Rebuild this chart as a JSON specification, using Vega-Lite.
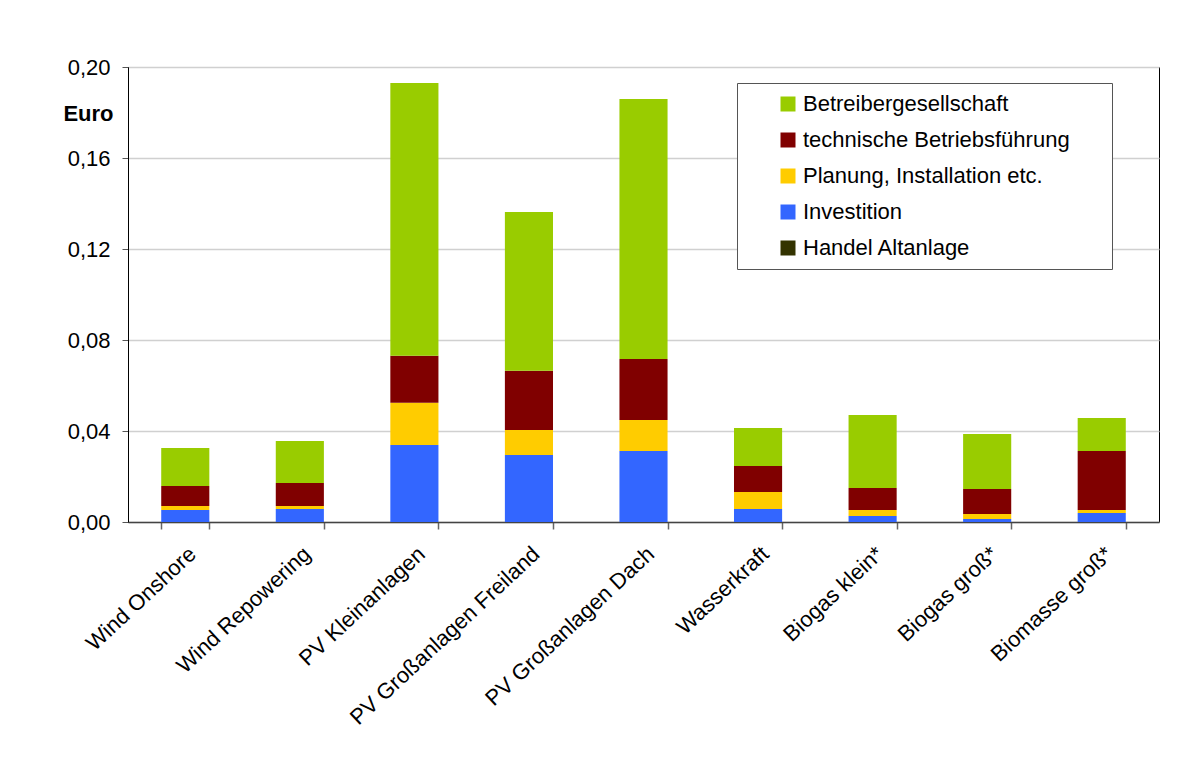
{
  "$schema": "https://vega.github.io/schema/vega-lite/v6.json",
  "autosize": {"type": "none"},
  "width": 1031,
  "height": 455,
  "padding": {"left": 128, "top": 67, "right": 24, "bottom": 262},
  "background": "white",
  "config": {
    "font": "Liberation Sans",
    "view": {"stroke": "#000000", "strokeWidth": 1}
  },
  "data": {
    "values": [
      {"kat": "Wind Onshore", "typ": "Handel Altanlage", "ord": 0, "wert": 0},
      {"kat": "Wind Onshore", "typ": "Investition", "ord": 1, "wert": 0.0053},
      {"kat": "Wind Onshore", "typ": "Planung, Installation etc.", "ord": 2, "wert": 0.0017},
      {"kat": "Wind Onshore", "typ": "technische Betriebsführung", "ord": 3, "wert": 0.0088},
      {"kat": "Wind Onshore", "typ": "Betreibergesellschaft", "ord": 4, "wert": 0.0167},

      {"kat": "Wind Repowering", "typ": "Handel Altanlage", "ord": 0, "wert": 0},
      {"kat": "Wind Repowering", "typ": "Investition", "ord": 1, "wert": 0.0057},
      {"kat": "Wind Repowering", "typ": "Planung, Installation etc.", "ord": 2, "wert": 0.0013},
      {"kat": "Wind Repowering", "typ": "technische Betriebsführung", "ord": 3, "wert": 0.0101},
      {"kat": "Wind Repowering", "typ": "Betreibergesellschaft", "ord": 4, "wert": 0.0185},

      {"kat": "PV Kleinanlagen", "typ": "Handel Altanlage", "ord": 0, "wert": 0},
      {"kat": "PV Kleinanlagen", "typ": "Investition", "ord": 1, "wert": 0.0338},
      {"kat": "PV Kleinanlagen", "typ": "Planung, Installation etc.", "ord": 2, "wert": 0.0186},
      {"kat": "PV Kleinanlagen", "typ": "technische Betriebsführung", "ord": 3, "wert": 0.0207},
      {"kat": "PV Kleinanlagen", "typ": "Betreibergesellschaft", "ord": 4, "wert": 0.1199},

      {"kat": "PV Großanlagen Freiland", "typ": "Handel Altanlage", "ord": 0, "wert": 0},
      {"kat": "PV Großanlagen Freiland", "typ": "Investition", "ord": 1, "wert": 0.0295},
      {"kat": "PV Großanlagen Freiland", "typ": "Planung, Installation etc.", "ord": 2, "wert": 0.0109},
      {"kat": "PV Großanlagen Freiland", "typ": "technische Betriebsführung", "ord": 3, "wert": 0.0261},
      {"kat": "PV Großanlagen Freiland", "typ": "Betreibergesellschaft", "ord": 4, "wert": 0.0698},

      {"kat": "PV Großanlagen Dach", "typ": "Handel Altanlage", "ord": 0, "wert": 0},
      {"kat": "PV Großanlagen Dach", "typ": "Investition", "ord": 1, "wert": 0.0312},
      {"kat": "PV Großanlagen Dach", "typ": "Planung, Installation etc.", "ord": 2, "wert": 0.0136},
      {"kat": "PV Großanlagen Dach", "typ": "technische Betriebsführung", "ord": 3, "wert": 0.0268},
      {"kat": "PV Großanlagen Dach", "typ": "Betreibergesellschaft", "ord": 4, "wert": 0.1143},

      {"kat": "Wasserkraft", "typ": "Handel Altanlage", "ord": 0, "wert": 0},
      {"kat": "Wasserkraft", "typ": "Investition", "ord": 1, "wert": 0.0057},
      {"kat": "Wasserkraft", "typ": "Planung, Installation etc.", "ord": 2, "wert": 0.0075},
      {"kat": "Wasserkraft", "typ": "technische Betriebsführung", "ord": 3, "wert": 0.0114},
      {"kat": "Wasserkraft", "typ": "Betreibergesellschaft", "ord": 4, "wert": 0.0167},

      {"kat": "Biogas klein*", "typ": "Handel Altanlage", "ord": 0, "wert": 0},
      {"kat": "Biogas klein*", "typ": "Investition", "ord": 1, "wert": 0.0026},
      {"kat": "Biogas klein*", "typ": "Planung, Installation etc.", "ord": 2, "wert": 0.0027},
      {"kat": "Biogas klein*", "typ": "technische Betriebsführung", "ord": 3, "wert": 0.0096},
      {"kat": "Biogas klein*", "typ": "Betreibergesellschaft", "ord": 4, "wert": 0.0321},

      {"kat": "Biogas groß*", "typ": "Handel Altanlage", "ord": 0, "wert": 0},
      {"kat": "Biogas groß*", "typ": "Investition", "ord": 1, "wert": 0.0013},
      {"kat": "Biogas groß*", "typ": "Planung, Installation etc.", "ord": 2, "wert": 0.0022},
      {"kat": "Biogas groß*", "typ": "technische Betriebsführung", "ord": 3, "wert": 0.0110},
      {"kat": "Biogas groß*", "typ": "Betreibergesellschaft", "ord": 4, "wert": 0.0242},

      {"kat": "Biomasse groß*", "typ": "Handel Altanlage", "ord": 0, "wert": 0},
      {"kat": "Biomasse groß*", "typ": "Investition", "ord": 1, "wert": 0.0040},
      {"kat": "Biomasse groß*", "typ": "Planung, Installation etc.", "ord": 2, "wert": 0.0013},
      {"kat": "Biomasse groß*", "typ": "technische Betriebsführung", "ord": 3, "wert": 0.0259},
      {"kat": "Biomasse groß*", "typ": "Betreibergesellschaft", "ord": 4, "wert": 0.0145}
    ]
  },
  "mark": {"type": "bar"},
  "encoding": {
    "x": {
      "field": "kat",
      "type": "nominal",
      "sort": null,
      "scale": {"paddingInner": 0.58, "paddingOuter": 0.29},
      "axis": {
        "title": null,
        "labelAngle": -43,
        "labelFontSize": 22,
        "labelColor": "#000000",
        "labelPadding": 14,
        "labelLimit": 400,
        "tickBand": "extent",
        "tickSize": 7,
        "tickColor": "#666666",
        "tickWidth": 1.5,
        "domainColor": "#444444",
        "domainWidth": 1.5,
        "grid": false
      }
    },
    "y": {
      "field": "wert",
      "type": "quantitative",
      "stack": "zero",
      "scale": {"domain": [0, 0.2], "nice": false, "zero": true},
      "axis": {
        "title": "Euro",
        "titleAngle": 0,
        "titleFontSize": 22,
        "titleFontWeight": "bold",
        "titleColor": "#000000",
        "titleX": -15,
        "titleY": 46,
        "titleAlign": "right",
        "titleBaseline": "middle",
        "values": [0, 0.04, 0.08, 0.12, 0.16, 0.2],
        "labelExpr": "replace(format(datum.value, '.2f'), '.', ',')",
        "labelFontSize": 22,
        "labelColor": "#000000",
        "labelPadding": 12,
        "tickSize": 6,
        "tickColor": "#555555",
        "domainColor": "#000000",
        "domainWidth": 1,
        "grid": true,
        "gridColor": "#d0d0d0",
        "gridWidth": 1.5
      }
    },
    "color": {
      "field": "typ",
      "type": "nominal",
      "scale": {
        "domain": ["Betreibergesellschaft", "technische Betriebsführung", "Planung, Installation etc.", "Investition", "Handel Altanlage"],
        "range": ["#99CC00", "#800000", "#FFCC00", "#3366FF", "#333300"]
      },
      "legend": {
        "title": "MM",
        "titleOrient": "right",
        "titlePadding": 0,
        "titleFontSize": 19,
        "titleOpacity": 0,
        "titleColor": "#ffffff",
        "orient": "none",
        "legendX": 609,
        "legendY": 16,
        "strokeColor": "#555555",
        "fillColor": "#ffffff",
        "padding": 10,
        "symbolOffset": 30,
        "symbolType": "square",
        "symbolSize": 225,
        "symbolStrokeWidth": 0,
        "labelFontSize": 22,
        "labelColor": "#000000",
        "labelOffset": 4,
        "labelLimit": 400,
        "rowPadding": 14
      }
    },
    "order": {"field": "ord", "type": "quantitative", "sort": "ascending"}
  }
}
